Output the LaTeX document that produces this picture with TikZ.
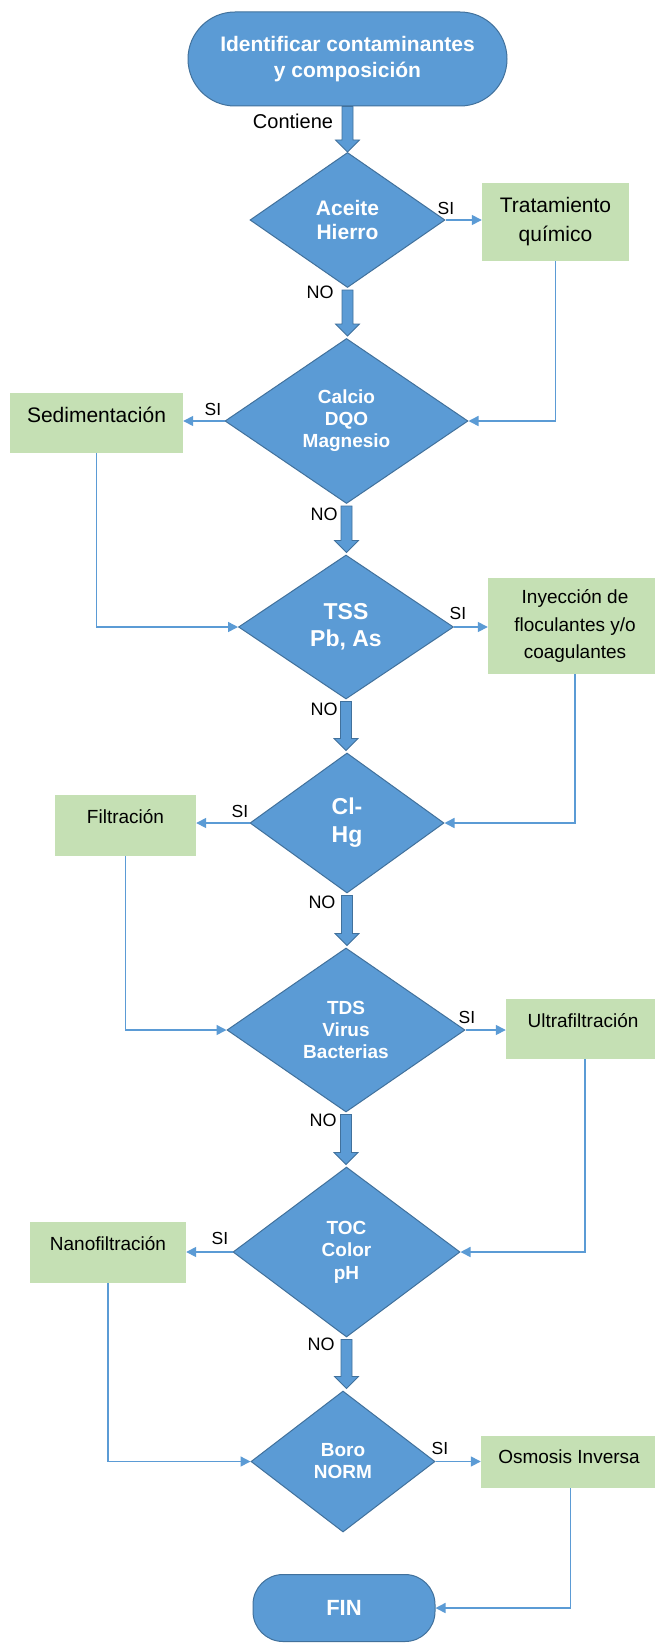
\documentclass[tikz,border=0pt]{standalone}
\usepackage{fontspec}
\setmainfont{Liberation Sans}
\usetikzlibrary{shapes.geometric,arrows.meta,calc}
\definecolor{dblue}{HTML}{5B9BD5}
\definecolor{bblue}{HTML}{41719C}
\definecolor{lgreen}{HTML}{C5E0B4}
\newcommand\fs[2]{\fontsize{#1}{#2}\selectfont}
\newcommand\blkarrow[2]{\path[blk] let \p1=(#1), \p2=(#2) in
  ({\x1-5.5pt},\y1) -- ({\x1+5.5pt},\y1) -- ({\x1+5.5pt},{\y2+12pt}) -- ({\x1+12pt},{\y2+12pt}) --
  (\x1,\y2) -- ({\x1-12pt},{\y2+12pt}) -- ({\x1-5.5pt},{\y2+12pt}) -- cycle;}
\begin{document}
\begin{tikzpicture}[x=1pt,y=-1pt,
 term/.style={rectangle, draw=bblue, fill=dblue, line width=1pt, text=white, align=center, inner sep=0pt},
 dec/.style={diamond, draw=bblue, fill=dblue, line width=1pt, text=white, align=center, inner sep=0pt},
 gbox/.style={rectangle, fill=lgreen, draw=none, inner sep=0pt},
 gtext/.style={align=center, inner sep=0pt},
 lbl/.style={inner sep=0pt, font=\fs{17.5}{20}},
 conn/.style={draw=dblue, line width=1.5pt, -{Triangle[length=10pt,width=10pt]}},
 blk/.style={fill=dblue, draw=bblue, line width=0.8pt, line join=miter},
]
\fill[white] (0,0) rectangle (654,1643);
\useasboundingbox (0,0) rectangle (654,1643);

% terminators
\node[term, rounded corners=47pt, minimum width=319pt, minimum height=94pt, font=\bfseries\fs{21}{26}] (start) at (347.5,59) {Identificar contaminantes\\y composición};
\node[term, rounded corners=30pt, minimum width=182pt, minimum height=67pt, font=\bfseries\fs{22}{26}] (fin) at (344,1608) {FIN};

% decisions
\node[dec, minimum width=195pt, minimum height=135pt, font=\bfseries\fs{21}{24}] (d1) at (347.5,220) {Aceite\\Hierro};
\node[dec, minimum width=243pt, minimum height=165pt, font=\bfseries\fs{19}{22}] (d2) at (346.5,421) {Calcio\\DQO\\Magnesio};
\node[dec, minimum width=215pt, minimum height=144pt, font=\bfseries\fs{23}{27}] (d3) at (346,627) {TSS\\Pb, As};
\node[dec, minimum width=194pt, minimum height=140pt, font=\bfseries\fs{23}{28}] (d4) at (347,823) {Cl-\\Hg};
\node[dec, minimum width=238pt, minimum height=164pt, font=\bfseries\fs{19}{22}] (d5) at (346,1030) {TDS\\Virus\\Bacterias};
\node[dec, minimum width=227pt, minimum height=170pt, font=\bfseries\fs{19}{22.5}] (d6) at (346.5,1252) {TOC\\Color\\pH};
\node[dec, minimum width=184pt, minimum height=141pt, font=\bfseries\fs{19}{22}] (d7) at (343,1461.5) {Boro\\NORM};

% green boxes
\node[gbox, minimum width=147pt, minimum height=78pt, font=\fs{21}{29}, align=center] (trat) at (555.5,222) {Tratamiento\\químico};
\node[gbox, minimum width=173pt, minimum height=60pt] (sed) at (96.5,423) {};
\node[gtext, font=\fs{21}{25}] (sedt) at (96.5,415) {Sedimentación};
\node[gbox, minimum width=174pt, minimum height=96pt, font=\fs{19}{27.5}, align=center] (iny) at (575,626) {Inyección de\\floculantes y/o\\coagulantes};
\node[gbox, minimum width=141pt, minimum height=61pt] (fil) at (125.5,825.5) {};
\node[gtext, font=\fs{19}{23}] (filt) at (125.5,817) {Filtración};
\node[gbox, minimum width=158pt, minimum height=60pt] (ult) at (585,1029) {};
\node[gtext, font=\fs{19}{23}] (ultt) at (583,1021) {Ultrafiltración};
\node[gbox, minimum width=156pt, minimum height=61pt] (nano) at (108,1252.5) {};
\node[gtext, font=\fs{19}{23}] (nanot) at (108,1244) {Nanofiltración};
\node[gbox, minimum width=179pt, minimum height=52pt] (osm) at (570.5,1462) {};
\node[gtext, font=\fs{19}{23}] (osmt) at (569,1457) {Osmosis Inversa};

% block arrows (main flow)
\blkarrow{start.south}{d1.north}
\blkarrow{[yshift=-2pt]d1.south}{[yshift=2pt]d2.north}
\blkarrow{[yshift=-2pt]d2.south}{[yshift=2pt]d3.north}
\blkarrow{[yshift=-2pt]d3.south}{[yshift=2pt]d4.north}
\blkarrow{[yshift=-2pt]d4.south}{[yshift=2pt]d5.north}
\blkarrow{[yshift=-2pt]d5.south}{[yshift=2pt]d6.north}
\blkarrow{[yshift=-2pt]d6.south}{[yshift=2pt]d7.north}

% thin connectors
\draw[conn] (d1.east) -- (d1.east -| trat.west);
\draw[conn] (trat.south) |- (d2.east);
\draw[conn] (d2.west) -- (d2.west -| sed.east);
\draw[conn] (sed.south) |- (d3.west);
\draw[conn] (d3.east) -- (d3.east -| iny.west);
\draw[conn] (iny.south) |- (d4.east);
\draw[conn] (d4.west) -- (d4.west -| fil.east);
\draw[conn] (fil.south) |- (d5.west);
\draw[conn] (d5.east) -- (d5.east -| ult.west);
\draw[conn] (ult.south) |- (d6.east);
\draw[conn] (d6.west) -- (d6.west -| nano.east);
\draw[conn] (nano.south) |- (d7.west);
\draw[conn] (d7.east) -- (d7.east -| osm.west);
\draw[conn] (osm.south) |- (fin.east);

% labels
\node[lbl, font=\fs{20}{24}] (contiene) at (293,121) {Contiene};
\node[lbl] (si1) at (446,208) {SI};
\node[lbl] (si2) at (213,409) {SI};
\node[lbl] (si3) at (458,613) {SI};
\node[lbl] (si4) at (240,811) {SI};
\node[lbl] (si5) at (467,1017) {SI};
\node[lbl] (si6) at (220,1238) {SI};
\node[lbl] (si7) at (440,1448) {SI};
\node[lbl, font=\fs{18}{21}] (no1) at (320,292) {NO};
\node[lbl, font=\fs{18}{21}] (no2) at (324,514) {NO};
\node[lbl, font=\fs{18}{21}] (no3) at (324,709) {NO};
\node[lbl, font=\fs{18}{21}] (no4) at (322,902) {NO};
\node[lbl, font=\fs{18}{21}] (no5) at (323,1120) {NO};
\node[lbl, font=\fs{18}{21}] (no6) at (321,1344) {NO};
\end{tikzpicture}
\end{document}
